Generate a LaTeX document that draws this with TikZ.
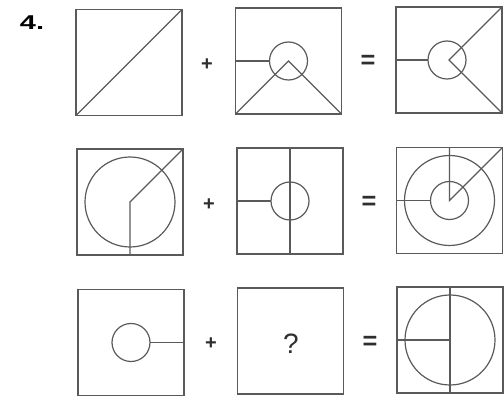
\documentclass[tikz,border=0pt]{standalone}
\usepackage{fontspec}
\setmainfont{Liberation Sans}
\usepackage{graphicx}
\usetikzlibrary{positioning}
\definecolor{figline}{HTML}{5A5A5A}
\definecolor{figtext}{HTML}{2E2E2E}

\begin{document}
\begin{tikzpicture}[x=0.75pt, y=-0.75pt, line width=0.9pt]
  \tikzstyle{pbox}=[draw=figline,inner sep=0pt,outer sep=0pt,minimum width=79.5pt,minimum height=79.5pt]
  \tikzstyle{ring}=[draw=figline,circle,inner sep=0pt,outer sep=0pt,minimum size=28.5pt]
  \tikzstyle{bigring}=[ring,minimum size=67.5pt]
  \tikzstyle{plus}=[text=figtext,inner sep=0pt,font=\fontsize{15}{15}\selectfont\bfseries]
  \tikzstyle{equal}=[text=figtext,inner sep=0pt,font=\fontsize{19}{19}\selectfont\bfseries]
  \useasboundingbox (0,0) rectangle (504,406);
  \node[text=black,font=\fontsize{15}{15}\selectfont\bfseries] (num) at (32,23) {\scalebox{1.45}[1]{4.}};
  % first row
  \node[pbox] (a1) at (129,62.5) {};
  \node[pbox] (a2) at (288.5,61) {};
  \node[pbox] (a3) at (449,60) {};
  \node[ring] (a2c) at (a2.center) {};
  \node[ring] (a3c) at (447,60) {};
  \node[plus] (p1) at (207,65) {+};
  \node[equal] (e1) at (368,62) {=};
  \draw[figline] (a1.south west) -- (a1.north east);
  \draw[figline] (a2.west) -- (a2c.west);
  \draw[figline] (a2.south west) -- (a2.center) -- (a2.south east);
  \draw[figline] (a3.west) -- (a3c.west);
  \draw[figline] (a3.north east) -- (a3.center) -- (a3.south east);
  % second row
  \node[pbox] (b1) at (130,202) {};
  \node[pbox] (b2) at (290,201) {};
  \node[pbox] (b3) at (449.5,200.5) {};
  \node[bigring] (b1c) at (b1.center) {};
  \node[ring] (b2c) at (b2.center) {};
  \node[bigring] (b3c) at (b3.center) {};
  \node[ring] (b3s) at (b3.center) {};
  \node[plus] (p2) at (209,205) {+};
  \node[equal] (e2) at (369,203) {=};
  \draw[figline] (b1.north east) -- (b1.center) -- (b1.south);
  \draw[figline] (b2.north) -- (b2.south);
  \draw[figline] (b2.west) -- (b2c.west);
  \draw[figline] (b3.north) -- (b3.center) -- (b3.north east);
  \draw[figline] (b3.west) -- (b3s.west);
  % third row
  \node[pbox] (c1) at (131,342.5) {};
  \node[pbox] (c2) at (290.5,341) {};
  \node[pbox] (c3) at (450,340) {};
  \node[ring] (c1c) at (c1.center) {};
  \node[bigring] (c3c) at (c3.center) {};
  \node[text=figtext,font=\fontsize{21}{21}\selectfont] (qm) at (291,344) {?};
  \node[plus] (p3) at (211,344) {+};
  \node[equal] (e3) at (370,343) {=};
  \draw[figline] (c1c.east) -- (c1.east);
  \draw[figline] (c3.north) -- (c3.south);
  \draw[figline] (c3.west) -- (c3.center);
\end{tikzpicture}
\end{document}
